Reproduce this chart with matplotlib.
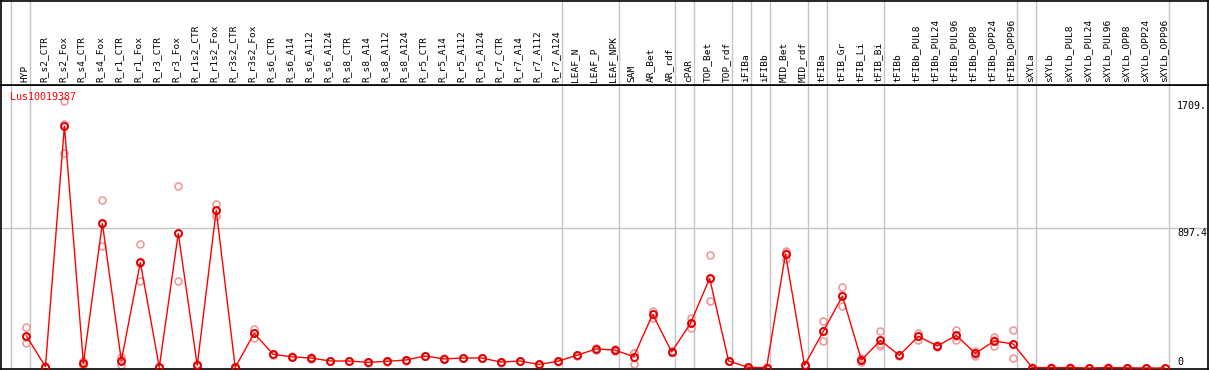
import matplotlib
matplotlib.use("Agg")
import matplotlib.pyplot as plt
import numpy as np

gene = "Lus10019387"

samples = ["HYP", "R_s2_CTR", "R_s2_Fox", "R_s4_CTR", "R_s4_Fox", "R_r1_CTR", "R_r1_Fox",
           "R_r3_CTR", "R_r3_Fox", "R_r1s2_CTR", "R_r1s2_Fox", "R_r3s2_CTR", "R_r3s2_Fox",
           "R_s6_CTR", "R_s6_A14", "R_s6_A112", "R_s6_A124", "R_s8_CTR", "R_s8_A14",
           "R_s8_A112", "R_s8_A124", "R_r5_CTR", "R_r5_A14", "R_r5_A112", "R_r5_A124",
           "R_r7_CTR", "R_r7_A14", "R_r7_A112", "R_r7_A124", "LEAF_N", "LEAF_P", "LEAF_NPK",
           "SAM", "AR_Bet", "AR_rdf", "cPAR", "TOP_Bet", "TOP_rdf", "iFIBa", "iFIBb",
           "MID_Bet", "MID_rdf", "tFIBa", "tFIB_Gr", "tFIB_Li", "tFIB_Bi", "tFIBb",
           "tFIBb_PUL8", "tFIBb_PUL24", "tFIBb_PUL96", "tFIBb_OPP8", "tFIBb_OPP24",
           "tFIBb_OPP96", "sXYLa", "sXYLb", "sXYLb_PUL8", "sXYLb_PUL24", "sXYLb_PUL96",
           "sXYLb_OPP8", "sXYLb_OPP24", "sXYLb_OPP96"]

means = [205, 8, 1551, 30, 927, 47, 677, 5, 863, 17, 1011, 4, 222, 88, 71, 64, 45, 45, 36,
         43, 51, 77, 58, 64, 64, 38, 45, 23, 43, 81, 122, 115, 73, 344, 103, 288, 575, 45,
         5, 2, 731, 17, 237, 461, 51, 177, 81, 203, 141, 209, 94, 173, 154, 3, 2, 3, 0, 3,
         1, 0, 0]

rep_a = [261, 12, 1709, 42, 1077, 73, 795, 6, 1169, 24, 1051, 5, 252, 92, 74, 68, 48, 47, 39,
         46, 54, 80, 61, 67, 67, 41, 48, 26, 46, 84, 126, 119, 98, 367, 106, 320, 724, 48,
         7, 4, 752, 22, 301, 519, 62, 235, 84, 222, 145, 241, 110, 201, 244, 5, 4, 6, 2, 5,
         3, 2, 1]
rep_b = [158, 4, 1380, 20, 782, 19, 560, 3, 556, 10, 974, 3, 190, 84, 68, 60, 42, 43, 33,
         40, 48, 74, 55, 61, 61, 35, 42, 20, 40, 78, 118, 111, 23, 318, 100, 254, 429, 42,
         3, 0, 700, 12, 175, 397, 40, 141, 78, 179, 137, 179, 80, 141, 62, 1, 0, 1, 0, 1,
         0, 0, 0]
rep_c = [196, 8, 1565, 28, 922, 49, 676, 6, 864, 17, 1008, 4, 224, 88, 71, 64, 45, 45, 36,
         43, 51, 77, 58, 64, 64, 38, 45, 23, 43, 81, 122, 115, 98, 347, 103, 290, 572, 45,
         5, 2, 741, 17, 235, 467, 51, 155, 81, 208, 141, 207, 92, 177, 156, 3, 2, 2, 0, 3,
         0, 0, 0]

# last sample of each group (separators drawn just after these)
group_ends = [-1, 0, 28, 31, 34, 35, 37, 38, 39, 41, 42, 45, 52, 53, 60]

ymax_label = "1709."
ymid = 897.4

W, H = 1209, 370
fig = plt.figure(figsize=(W / 100, H / 100), dpi=100)
mono = "DejaVu Sans Mono"
fs = 6.8

x = np.arange(len(samples))
xlim = (-26 / 19, (W - 26) / 19)

ax = fig.add_axes([0.5 / W, 1 / H, (W - 1.5) / W, 284 / H])
hd = fig.add_axes([0.5 / W, 285 / H, (W - 1.5) / W, 84 / H])

for a in (ax, hd):
    a.set_xlim(*xlim)
    a.set_xticks([])
    a.set_yticks([])
    for s in a.spines.values():
        s.set_color("black")
        s.set_linewidth(1.2)
    for g in group_ends:
        a.axvline(g + 0.2, color="#c4c4c4", lw=1, zorder=0)

hd.set_ylim(0, 1)
for i, name in enumerate(samples):
    hd.text(i - 0.1, 0.035, name, rotation=90, ha="center", va="bottom",
            fontsize=fs, family=mono)

ax.set_ylim(-6.4, 1814)
ax.axhline(ymid, color="#c4c4c4", lw=1, zorder=0)

for reps in (rep_a, rep_b, rep_c):
    ax.plot(x, reps, "o", ms=5, mfc="none", mec="#ec9a9a", mew=1.2, zorder=2,
            clip_on=False)
ax.plot(x, means, "-", color="red", lw=1, zorder=3, clip_on=False)
ax.plot(x, means, "o", ms=5, mfc="none", mec="#e00000", mew=1.4, zorder=4,
        clip_on=False)

ax.text(10 / W, 1 - 12 / 284, gene, transform=ax.transAxes, color="red",
        fontsize=fs + 0.4, family=mono, va="center", ha="left")

tx = 1178 / W
ax.text(tx, 1709, ymax_label, transform=ax.get_yaxis_transform(), fontsize=fs + 0.4,
        family=mono, va="top", ha="left")
ax.text(tx, ymid, "897.4", transform=ax.get_yaxis_transform(), fontsize=fs + 0.4,
        family=mono, va="top", ha="left")
ax.text(tx, 5, "0", transform=ax.get_yaxis_transform(), fontsize=fs + 0.4,
        family=mono, va="bottom", ha="left")

plt.savefig("out.png", dpi=100)
